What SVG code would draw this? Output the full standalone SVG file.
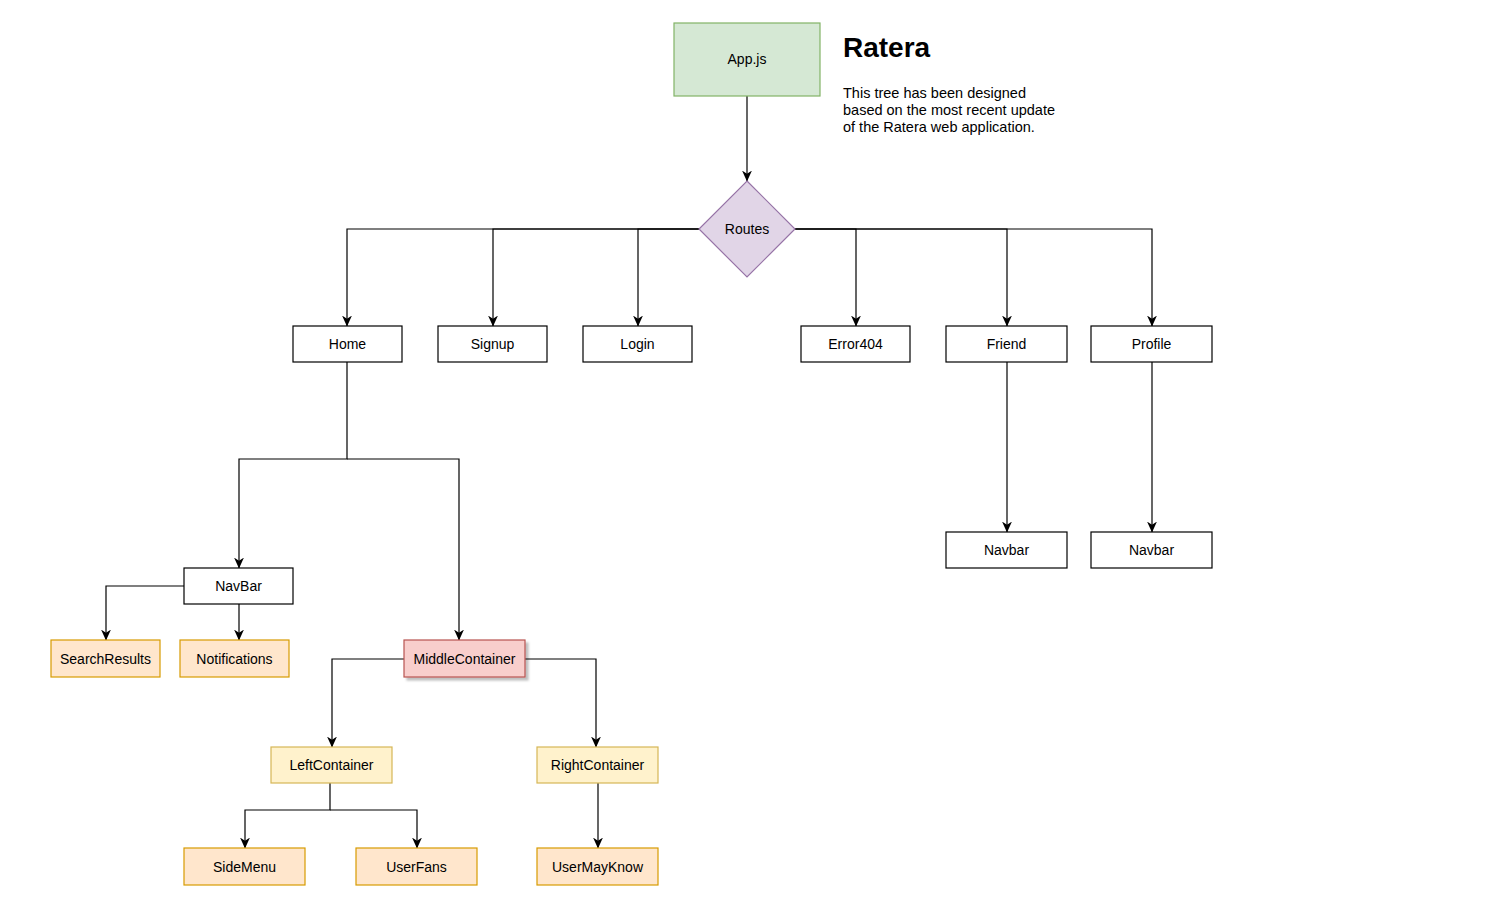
<svg xmlns="http://www.w3.org/2000/svg" width="1494" height="920" viewBox="0 0 1494 920">
<style>
text{font-family:"Liberation Sans",Arial,Helvetica,sans-serif;font-size:14px;fill:#000}
.lbl{text-anchor:middle;dominant-baseline:central}
.d{font-size:14.5px}
.w{fill:#fff;stroke:#000;stroke-width:1.2}
.o{fill:#ffe6cc;stroke:#d79b00;stroke-width:1.2}
.y{fill:#fff2cc;stroke:#d6b656;stroke-width:1.2}
.r{fill:#f8cecc;stroke:#b85450;stroke-width:1.2}
.c{fill:none;stroke:#000;stroke-width:1.2;marker-end:url(#arr)}
</style>
<defs>
<marker id="arr" viewBox="0 0 10 10" refX="9.5" refY="5" markerWidth="11" markerHeight="11" markerUnits="userSpaceOnUse" orient="auto">
<path d="M0,0.5 L10,5 L0,9.5 L3,5 Z" fill="#000"/>
</marker>
<filter id="sh" x="-10%" y="-20%" width="130%" height="160%">
<feDropShadow dx="3" dy="3" stdDeviation="1" flood-color="#000" flood-opacity="0.25"/>
</filter>
</defs>
<rect width="1494" height="920" fill="#fff"/>
<g id="connectors">
<path class="c" d="M747,96 V181"/>
<path class="c" d="M699,229 H347 V326"/>
<path class="c" d="M699,229 H493 V326"/>
<path class="c" d="M699,229 H638 V326"/>
<path class="c" d="M795,229 H856 V326"/>
<path class="c" d="M795,229 H1007 V326"/>
<path class="c" d="M795,229 H1152 V326"/>
<path class="c" d="M347,362 V459 H239 V568"/>
<path class="c" d="M347,459 H459 V640"/>
<path class="c" d="M184,586 H106 V640"/>
<path class="c" d="M239,604 V640"/>
<path class="c" d="M404,659 H332 V747"/>
<path class="c" d="M525,659 H596 V747"/>
<path class="c" d="M330,783 V810 H245 V848"/>
<path class="c" d="M330,810 H417 V848"/>
<path class="c" d="M598,783 V848"/>
<path class="c" d="M1007,362 V532"/>
<path class="c" d="M1152,362 V532"/>
</g>
<g id="app"><rect x="674" y="23" width="146" height="73" fill="#d5e8d4" stroke="#82b366" stroke-width="1.2"/><text class="lbl" x="747" y="59">App.js</text></g>
<g id="title"><text x="843" y="57" style="font-size:28px;font-weight:bold">Ratera</text>
<text class="d" x="843" y="98">This tree has been designed</text>
<text class="d" x="843" y="115">based on the most recent update</text>
<text class="d" x="843" y="132">of the Ratera web application.</text></g>
<g id="routes"><polygon points="747,181 795,229 747,277 699,229" fill="#e1d5e7" stroke="#9673a6" stroke-width="1.2"/><text class="lbl" x="747" y="229">Routes</text></g>
<g id="home"><rect class="w" x="293" y="326" width="109" height="36"/><text class="lbl" x="347.5" y="344">Home</text></g>
<g id="signup"><rect class="w" x="438" y="326" width="109" height="36"/><text class="lbl" x="492.5" y="344">Signup</text></g>
<g id="login"><rect class="w" x="583" y="326" width="109" height="36"/><text class="lbl" x="637.5" y="344">Login</text></g>
<g id="error404"><rect class="w" x="801" y="326" width="109" height="36"/><text class="lbl" x="855.5" y="344">Error404</text></g>
<g id="friend"><rect class="w" x="946" y="326" width="121" height="36"/><text class="lbl" x="1006.5" y="344">Friend</text></g>
<g id="profile"><rect class="w" x="1091" y="326" width="121" height="36"/><text class="lbl" x="1151.5" y="344">Profile</text></g>
<g id="navbar-friend"><rect class="w" x="946" y="532" width="121" height="36"/><text class="lbl" x="1006.5" y="550">Navbar</text></g>
<g id="navbar-profile"><rect class="w" x="1091" y="532" width="121" height="36"/><text class="lbl" x="1151.5" y="550">Navbar</text></g>
<g id="navbar-home"><rect class="w" x="184" y="568" width="109" height="36"/><text class="lbl" x="238.5" y="586">NavBar</text></g>
<g id="searchresults"><rect class="o" x="51" y="640" width="109" height="37"/><text class="lbl" x="105.5" y="658.5">SearchResults</text></g>
<g id="notifications"><rect class="o" x="180" y="640" width="109" height="37"/><text class="lbl" x="234.5" y="658.5">Notifications</text></g>
<g id="middlecontainer"><rect class="r" x="404" y="640" width="121" height="37" filter="url(#sh)"/><text class="lbl" x="464.5" y="658.5">MiddleContainer</text></g>
<g id="leftcontainer"><rect class="y" x="271" y="747" width="121" height="36"/><text class="lbl" x="331.5" y="765">LeftContainer</text></g>
<g id="rightcontainer"><rect class="y" x="537" y="747" width="121" height="36"/><text class="lbl" x="597.5" y="765">RightContainer</text></g>
<g id="sidemenu"><rect class="o" x="184" y="848" width="121" height="37"/><text class="lbl" x="244.5" y="866.5">SideMenu</text></g>
<g id="userfans"><rect class="o" x="356" y="848" width="121" height="37"/><text class="lbl" x="416.5" y="866.5">UserFans</text></g>
<g id="usermayknow"><rect class="o" x="537" y="848" width="121" height="37"/><text class="lbl" x="597.5" y="866.5">UserMayKnow</text></g>
</svg>
